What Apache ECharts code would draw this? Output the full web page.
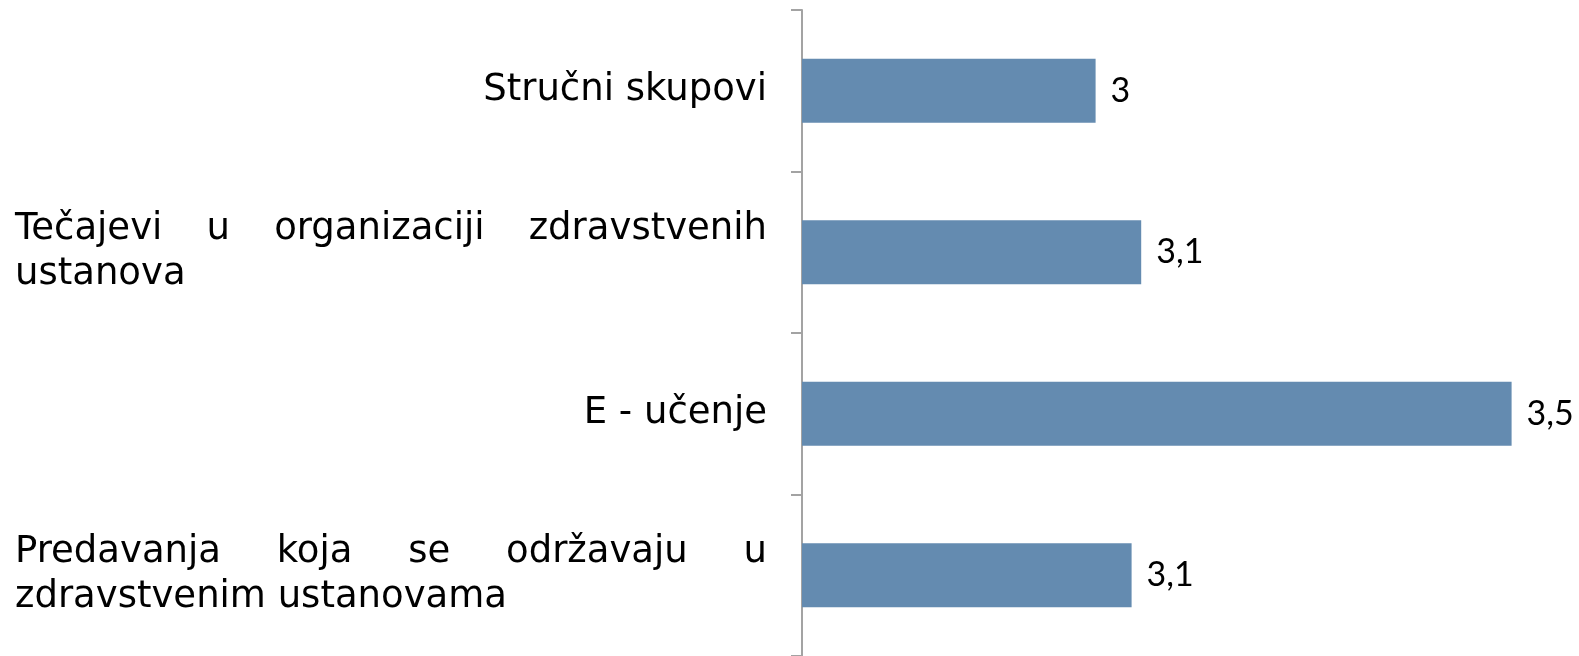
<!DOCTYPE html>
<html>
<head>
<meta charset="utf-8">
<script src="https://cdn.jsdelivr.net/npm/echarts@6/dist/echarts.min.js"></script>
<style>
  html, body { margin: 0; padding: 0; background: #fff; }
  #chart { width: 1579px; height: 656px; }
</style>
</head>
<body>
<div id="chart"></div>
<script>
// categories, top to bottom ('\n' = where the label wraps)
let categories = [
  'Stručni skupovi',
  'Tečajevi u organizaciji zdravstvenih\nustanova',
  'E - učenje',
  'Predavanja koja se održavaju u\nzdravstvenim ustanovama'
];
// values (labels show them rounded)
let values = [3.017, 3.074, 3.537, 3.062];

let labelFont = '37px "DejaVu Sans"';
let boxWidth = 752; // width of the justified first line

let ctx = document.createElement('canvas').getContext('2d');
ctx.font = labelFont;

let rich = {
  w: { fontFamily: 'DejaVu Sans', fontSize: 37, color: '#000', lineHeight: 45, align: 'left' }
};
let labelText = [];
for (let i = 0; i < categories.length; i++) {
  let lines = categories[i].split('\n');
  if (lines.length == 1) {
    labelText.push('{w|' + lines[0] + '}');
    continue;
  }
  // first line justified across the box, the rest left aligned
  let words = lines[0].split(' ');
  let used = 0;
  for (let j = 0; j < words.length; j++) used += ctx.measureText(words[j]).width;
  let gap = (boxWidth - used) / (words.length - 1);
  rich['g' + i] = { width: gap, lineHeight: 45, align: 'left', fontSize: 37 };
  let first = words.map(function(s) { return '{w|' + s + '}'; }).join('{g' + i + '| }');
  let rest = lines.slice(1).map(function(s) { return '{w|' + s + '}'; });
  labelText.push([first].concat(rest).join('\n'));
}

let chart = echarts.init(document.getElementById('chart'), null, { renderer: 'canvas' });
let option = {
  animation: false,
  grid: { left: 802, right: 17, top: 10, bottom: 0 },
  xAxis: {
    type: 'value',
    min: 2.65,
    max: 3.6,
    show: false
  },
  yAxis: {
    type: 'category',
    inverse: true,
    data: categories,
    axisLine: { show: true, lineStyle: { color: '#a3a3a3', width: 2 } },
    axisTick: { show: true, length: 11, lineStyle: { color: '#a3a3a3', width: 2 } },
    axisLabel: {
      margin: 35,
      lineHeight: 45,
      formatter: function(value, index) {
        return labelText[index];
      },
      rich: rich
    }
  },
  series: [{
    type: 'bar',
    data: values,
    barWidth: 64,
    itemStyle: { color: '#648bb0' },
    label: {
      show: true,
      position: 'right',
      distance: 15,
      fontFamily: 'Lato',
      fontSize: 34,
      color: '#000',
      formatter: function(p) {
        return String(Math.round(p.value * 10) / 10).replace('.', ',');
      }
    }
  }]
};
chart.setOption(option);
</script>
</body>
</html>
